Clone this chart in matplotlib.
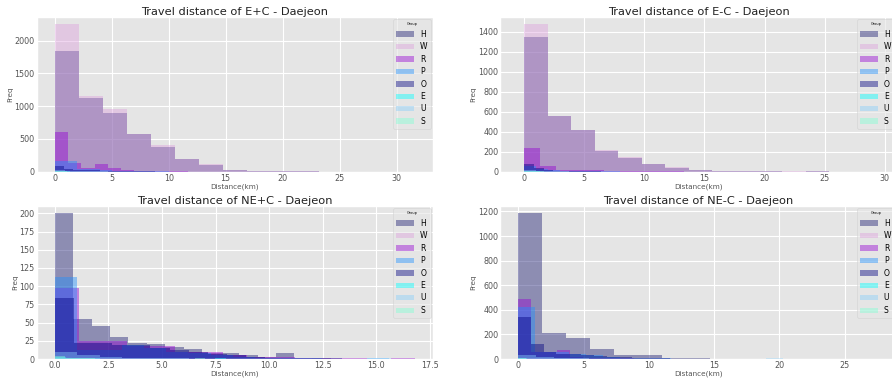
import matplotlib
matplotlib.use("Agg")
import matplotlib.pyplot as plt
import matplotlib.ticker as mticker
import numpy as np

plt.style.use('ggplot')

groups = ['H', 'W', 'R', 'P', 'O', 'E', 'U', 'S']
colors = ['midnightblue', 'plum', 'darkviolet', 'dodgerblue', 'navy',
          'cyan', 'lightskyblue', 'aquamarine']

# E+C : max distance of each group (km) and counts in 15 bins
ep_range = [31.6, 31.6, 17.5, 15.0, 12.0, 10.0, 14.0, 8.0]
ep_counts = [
    [1850, 1120, 900, 570, 380, 190, 100, 25, 12, 6, 3, 2, 1, 1, 1],
    [2250, 1160, 960, 580, 410, 200, 110, 30, 15, 8, 4, 2, 1, 1, 1],
    [610, 140, 60, 110, 60, 25, 12, 8, 4, 3, 2, 1, 1, 0, 1],
    [170, 165, 45, 35, 25, 15, 10, 6, 4, 3, 2, 1, 1, 0, 1],
    [85, 40, 30, 25, 20, 15, 10, 8, 5, 4, 3, 2, 1, 1, 1],
    [5, 3, 2, 1, 1, 0, 0, 0, 0, 0, 0, 0, 0, 0, 1],
    [20, 10, 6, 4, 3, 2, 1, 1, 0, 0, 0, 0, 0, 0, 1],
    [8, 4, 2, 1, 1, 0, 0, 0, 0, 0, 0, 0, 0, 0, 1],
]

# E-C
em_range = [29.3, 29.3, 20.0, 15.0, 12.0, 10.0, 14.0, 8.0]
em_counts = [
    [1345, 555, 415, 210, 140, 75, 40, 12, 8, 5, 3, 1, 2, 0, 1],
    [1475, 560, 420, 215, 145, 80, 45, 15, 10, 6, 3, 2, 3, 0, 1],
    [235, 55, 20, 20, 20, 10, 8, 5, 3, 2, 1, 1, 0, 0, 1],
    [60, 30, 15, 10, 8, 5, 3, 2, 1, 1, 0, 0, 0, 0, 1],
    [80, 35, 15, 10, 8, 5, 3, 2, 1, 1, 0, 0, 0, 0, 1],
    [4, 2, 1, 1, 0, 0, 0, 0, 0, 0, 0, 0, 0, 0, 1],
    [12, 6, 4, 2, 1, 1, 0, 0, 0, 0, 0, 0, 0, 0, 1],
    [6, 3, 2, 1, 0, 0, 0, 0, 0, 0, 0, 0, 0, 0, 1],
]

# NE+C
nep_range = [12.9, 12.0, 16.8, 15.6, 13.4, 8.0, 15.7, 7.0]
nep_counts = [
    [200, 55, 45, 30, 22, 21, 17, 14, 9, 8, 5, 3, 8, 2, 2],
    [3, 2, 1, 1, 1, 0, 0, 0, 0, 0, 0, 0, 0, 0, 1],
    [98, 25, 25, 18, 18, 10, 10, 5, 3, 3, 2, 1, 1, 0, 1],
    [112, 12, 13, 20, 15, 10, 8, 5, 3, 2, 1, 1, 0, 0, 1],
    [84, 22, 22, 20, 20, 15, 12, 10, 7, 5, 3, 2, 1, 1, 1],
    [3, 2, 1, 1, 0, 0, 0, 0, 0, 0, 0, 0, 0, 0, 1],
    [10, 5, 3, 2, 1, 1, 0, 0, 0, 0, 0, 0, 0, 0, 1],
    [4, 2, 1, 1, 0, 0, 0, 0, 0, 0, 0, 0, 0, 0, 1],
]

# NE-C
nem_range = [27.6, 14.0, 14.8, 19.5, 14.5, 10.0, 20.3, 9.0]
nem_counts = [
    [1185, 210, 175, 80, 35, 30, 12, 12, 0, 0, 0, 0, 0, 0, 1],
    [10, 5, 3, 2, 1, 1, 0, 0, 0, 0, 0, 0, 0, 0, 1],
    [485, 60, 55, 70, 15, 12, 10, 8, 5, 3, 2, 1, 1, 0, 1],
    [425, 60, 60, 40, 35, 20, 10, 8, 5, 4, 3, 2, 1, 1, 1],
    [340, 120, 55, 40, 45, 30, 25, 20, 15, 10, 8, 5, 3, 2, 1],
    [6, 3, 2, 1, 1, 0, 0, 0, 0, 0, 0, 0, 0, 0, 1],
    [30, 15, 10, 5, 3, 2, 1, 1, 0, 0, 0, 0, 0, 0, 5],
    [8, 4, 2, 1, 0, 0, 0, 0, 0, 0, 0, 0, 0, 0, 1],
]

panels = [
    ('Travel distance of E+C - Daejeon', ep_range, ep_counts, [0.0411, 0.5458, 0.4443, 0.4093], (-1.58, 33.18), 500, 5),
    ('Travel distance of E-C - Daejeon', em_range, em_counts, [0.5609, 0.5458, 0.4443, 0.4093], (-2.0, 31.0), 200, 5),
    ('Travel distance of NE+C - Daejeon', nep_range, nep_counts, [0.0411, 0.0500, 0.4443, 0.4050], (-0.84, 17.64), 25, 2.5),
    ('Travel distance of NE-C - Daejeon', nem_range, nem_counts, [0.5609, 0.0500, 0.4443, 0.4050], (-1.38, 28.98), 200, 5),
]

fig = plt.figure(figsize=(8.92, 3.78), dpi=100)

for title, ranges, counts, pos, xlim, ystep, xstep in panels:
    ax = fig.add_axes(pos)
    for g, c, r, cnt in zip(groups, colors, ranges, counts):
        edges = np.linspace(0, r, len(cnt) + 1)
        ax.bar(edges[:-1], cnt, width=np.diff(edges), align='edge',
               color=c, alpha=0.43, linewidth=0, label=g)
    ax.set_xlim(*xlim)
    ax.yaxis.set_major_locator(mticker.MultipleLocator(ystep))
    ax.xaxis.set_major_locator(mticker.MultipleLocator(xstep))
    ax.set_title(title, fontsize=8.2, pad=1.5, color='#222222')
    ax.set_xlabel('Distance(km)', fontsize=5.2, labelpad=0.5, color='#555555')
    ax.set_ylabel('Freq', fontsize=5.2, labelpad=1, color='#555555')
    ax.tick_params(labelsize=5.8, length=0, pad=1.5)
    leg = ax.legend(title='Group', loc='upper right', fontsize=5.5,
                    title_fontsize=2.5, borderaxespad=0.3, framealpha=0.6,
                    handlelength=2.3, labelspacing=0.45)

fig.savefig('out.png', dpi=100)
